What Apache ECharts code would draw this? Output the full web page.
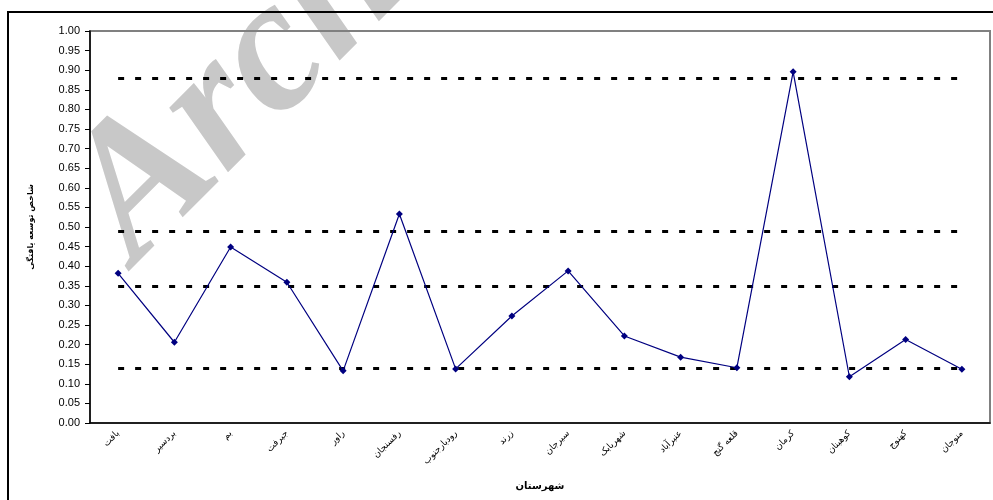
<!DOCTYPE html>
<html>
<head>
<meta charset="utf-8">
<script src="https://cdn.jsdelivr.net/npm/echarts@6/dist/echarts.min.js"></script>
<style>
    html, body {
        margin: 0;
        padding: 0;
        background: #fff;
    }
    #chart {
        width: 993px;
        height: 500px;
    }
</style>
</head>
<body>
<div id="chart"></div>
<script>
// شهرستان ها
const counties = ['بافت', 'بردسیر', 'بم', 'جیرفت', 'راور', 'رفسنجان', 'رودبارجنوب', 'زرند',
    'سیرجان', 'شهربابک', 'عنبرآباد', 'قلعه گنج', 'کرمان', 'کوهبنان', 'کهنوج', 'منوجان'];
// شاخص توسعه یافتگی
const devIndex = [0.382, 0.206, 0.449, 0.359, 0.133, 0.533, 0.138, 0.273,
    0.388, 0.222, 0.168, 0.141, 0.896, 0.118, 0.213, 0.137];
// خطوط مرزی سطح توسعه
const levels = [0.879, 0.489, 0.349, 0.14];

let myChart = echarts.init(document.getElementById('chart'));

let option = {
    animation: false,
    textStyle: {fontFamily: 'Liberation Sans'},
    graphic: [
        {
            // قاب بیرونی
            type: 'rect',
            z: 0,
            silent: true,
            shape: {x: 8, y: 12, width: 1000, height: 500},
            style: {fill: 'none', stroke: '#000', lineWidth: 2}
        },
        {
            // واترمارک
            type: 'text',
            z: -10,
            silent: true,
            x: 168,
            y: 297,
            rotation: Math.PI / 4,
            style: {
                text: 'Archive of SID',
                font: 'italic bold 190px "Liberation Serif"',
                fill: '#c8c8c8',
                textVerticalAlign: 'bottom'
            }
        }
    ],
    grid: {
        left: 90,
        right: 3,
        top: 31,
        bottom: 77,
        show: true,
        borderColor: '#808080',
        borderWidth: 2,
        backgroundColor: 'transparent'
    },
    xAxis: {
        type: 'category',
        data: counties,
        boundaryGap: true,
        name: 'شهرستان',
        nameLocation: 'middle',
        nameGap: 58,
        nameTextStyle: {fontSize: 10, fontWeight: 'bold', color: '#000', fontFamily: 'DejaVu Sans'},
        axisLine: {lineStyle: {color: '#000', width: 1.5}},
        axisTick: {length: 4, lineStyle: {color: '#000'}},
        axisLabel: {
            rotate: 45,
            interval: 0,
            fontSize: 9,
            margin: 9,
            color: '#000',
            fontFamily: 'DejaVu Sans'
        }
    },
    yAxis: {
        type: 'value',
        min: 0,
        max: 1,
        interval: 0.05,
        name: 'شاخص توسعه یافتگی',
        nameLocation: 'middle',
        nameRotate: 90,
        nameGap: 55,
        nameTextStyle: {fontSize: 8, fontWeight: 'bold', color: '#000', fontFamily: 'DejaVu Sans'},
        splitLine: {show: false},
        axisLine: {show: true, lineStyle: {color: '#000', width: 1.5}},
        axisTick: {show: true, length: 5, lineStyle: {color: '#000'}},
        axisLabel: {
            fontSize: 11,
            margin: 10,
            color: '#000',
            formatter: v => v.toFixed(2)
        }
    },
    series: [
        {
            type: 'line',
            data: devIndex,
            symbol: 'diamond',
            symbolSize: 7,
            z: 5,
            lineStyle: {color: '#000080', width: 1.2},
            itemStyle: {color: '#000080'},
            markLine: {
                silent: true,
                symbol: 'none',
                label: {show: false},
                lineStyle: {color: '#000', width: 3, type: [6, 11]},
                data: levels.map(v => [{coord: [0, v]}, {coord: [counties.length - 1, v]}])
            }
        }
    ]
};
option && myChart.setOption(option);
</script>
</body>
</html>
